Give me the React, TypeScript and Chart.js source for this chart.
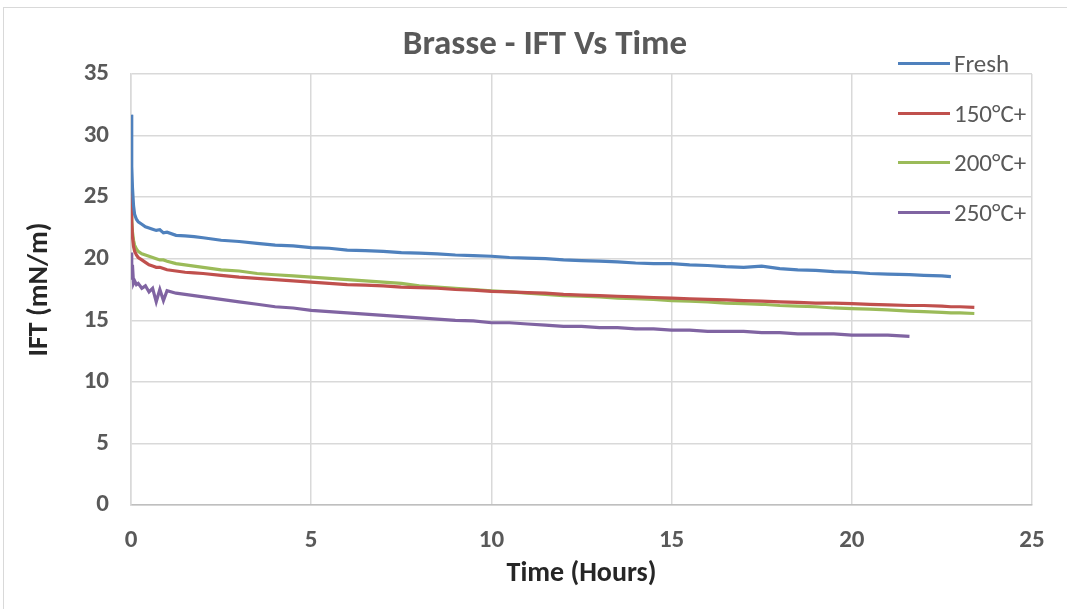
import React, { useEffect, useRef } from "react";
import { Chart, registerables } from "chart.js";

Chart.register(...registerables);

const timeHours = [
  0, 0.02, 0.04, 0.07, 0.1, 0.15, 0.2, 0.3, 0.4, 0.5, 0.6, 0.7, 0.8, 0.9, 1.0, 1.25, 1.5, 1.75, 2.0, 2.5,
  3.0, 3.5, 4.0, 4.5, 5.0, 5.5, 6.0, 6.5, 7.0, 7.5, 8.0, 8.5, 9.0, 9.5, 10.0, 10.5, 11.0, 11.5, 12.0, 12.5,
  13.0, 13.5, 14.0, 14.5, 15.0, 15.5, 16.0, 16.5, 17.0, 17.5, 18.0, 18.5, 19.0, 19.5, 20.0, 20.5, 21.0, 21.6,
  22.0, 22.5, 22.75, 23.0, 23.4,
];

const freshIFT = [
  31.7, 27.5, 25.8, 24.3, 23.6, 23.2, 23.0, 22.8, 22.6, 22.5, 22.4, 22.3, 22.35, 22.1, 22.15, 21.9, 21.85, 21.8, 21.7, 21.5,
  21.4, 21.25, 21.1, 21.05, 20.9, 20.85, 20.7, 20.65, 20.6, 20.5, 20.45, 20.4, 20.3, 20.25, 20.2, 20.1, 20.05, 20.0, 19.9, 19.85,
  19.8, 19.75, 19.65, 19.6, 19.6, 19.5, 19.45, 19.35, 19.3, 19.4, 19.2, 19.1, 19.05, 18.95, 18.9, 18.8, 18.75, 18.7,
  18.65, 18.6, 18.55,
];

const ift150 = [
  25.9, 23.0, 21.8, 21.0, 20.6, 20.3, 20.1, 19.9, 19.7, 19.5, 19.4, 19.3, 19.3, 19.2, 19.1, 19.0, 18.9, 18.85, 18.8, 18.65,
  18.5, 18.4, 18.3, 18.2, 18.1, 18.0, 17.9, 17.85, 17.8, 17.7, 17.65, 17.6, 17.5, 17.45, 17.35, 17.3, 17.25, 17.2, 17.1, 17.05,
  17.0, 16.95, 16.9, 16.85, 16.8, 16.75, 16.7, 16.65, 16.6, 16.55, 16.5, 16.45, 16.4, 16.4, 16.35, 16.3, 16.25, 16.2,
  16.2, 16.15, 16.1, 16.1, 16.05,
];

const ift200 = [
  25.0, 23.2, 22.2, 21.5, 21.1, 20.8, 20.6, 20.4, 20.3, 20.2, 20.1, 20.0, 19.9, 19.9, 19.8, 19.6, 19.5, 19.4, 19.3, 19.1,
  19.0, 18.8, 18.7, 18.6, 18.5, 18.4, 18.3, 18.2, 18.1, 18.0, 17.8, 17.7, 17.6, 17.5, 17.4, 17.3, 17.2, 17.1, 17.0, 16.95,
  16.9, 16.8, 16.75, 16.7, 16.6, 16.55, 16.5, 16.4, 16.35, 16.3, 16.2, 16.15, 16.1, 16.0, 15.95, 15.9, 15.85, 15.75,
  15.7, 15.65, 15.6, 15.6, 15.55,
];

const ift250 = [
  20.5, 18.3, 19.5, 18.0, 18.2, 17.9, 18.0, 17.6, 17.8, 17.3, 17.6, 16.5, 17.5, 16.6, 17.4, 17.2, 17.1, 17.0, 16.9, 16.7,
  16.5, 16.3, 16.1, 16.0, 15.8, 15.7, 15.6, 15.5, 15.4, 15.3, 15.2, 15.1, 15.0, 14.95, 14.8, 14.8, 14.7, 14.6, 14.5, 14.5,
  14.4, 14.4, 14.3, 14.3, 14.2, 14.2, 14.1, 14.1, 14.1, 14.0, 14.0, 13.9, 13.9, 13.9, 13.8, 13.8, 13.8, 13.7,
];

const seriesNames = ["Fresh", "150°C+", "200°C+", "250°C+"];
const seriesValues = [freshIFT, ift150, ift200, ift250];
const seriesColors = ["#4F81BD", "#C0504D", "#9BBB59", "#8064A2"];

const chartTitle = "Brasse - IFT Vs Time";
const xAxisTitle = "Time (Hours)";
const yAxisTitle = "IFT (mN/m)";

const FONT = 'Carlito, "Liberation Sans Narrow", "Open Sans", sans-serif';

export default function App() {
  const canvasRef = useRef<HTMLCanvasElement>(null);

  useEffect(() => {
    if (!canvasRef.current) return;
    const chart = new Chart(canvasRef.current, {
      type: "line",
      data: {
        datasets: seriesNames.map((name, i) => ({
          label: name,
          data: seriesValues[i].map((v, j) => ({ x: timeHours[j], y: v })),
          borderColor: seriesColors[i],
          backgroundColor: seriesColors[i],
          borderWidth: 3.2,
          pointRadius: 0,
          tension: 0,
          fill: false,
        })),
      },
      options: {
        animation: false,
        responsive: false,
        maintainAspectRatio: false,
        layout: { padding: { left: 0, right: 35, top: 74, bottom: 0 } },
        plugins: {
          legend: { display: false },
          tooltip: { enabled: false },
          title: { display: false },
        },
        scales: {
          x: {
            type: "linear",
            min: 0,
            max: 25,
            ticks: { stepSize: 5, color: "#595959", font: { family: FONT, size: 25, weight: "bold" }, padding: 21, maxRotation: 0 },
            grid: { color: "#d9d9d9", drawTicks: false, lineWidth: 1.5 },
            border: { color: "#bfbfbf", width: 1.5 },
            title: {
              display: true,
              text: xAxisTitle,
              color: "#262626",
              font: { family: FONT, size: 28, weight: "bold" },
              padding: { top: 0, bottom: 18 },
            },
            afterFit: (s: any) => {
              s.height = 104;
            },
          },
          y: {
            type: "linear",
            min: 0,
            max: 35,
            ticks: { stepSize: 5, color: "#595959", font: { family: FONT, size: 25, weight: "bold" }, padding: 22 },
            grid: { color: "#d9d9d9", drawTicks: false, lineWidth: 1.5 },
            border: { color: "#d9d9d9", width: 1.5 },
            title: {
              display: true,
              text: yAxisTitle,
              color: "#262626",
              font: { family: FONT, size: 28, weight: "bold" },
              padding: { top: 23, bottom: 0 },
            },
            afterFit: (s: any) => {
              s.width = 131;
            },
          },
        },
      },
    });
    return () => chart.destroy();
  }, []);

  const legendTop = [63, 113, 162, 212];

  return (
    <div style={{ position: "fixed", left: 0, top: 0, width: 1067, height: 609, background: "#fff", overflow: "hidden" }}>
      <div
        style={{
          position: "absolute",
          left: 3,
          top: 7,
          width: 1100,
          height: 700,
          borderLeft: "1.5px solid #d9d9d9",
          borderTop: "1.5px solid #d9d9d9",
        }}
      />
      <canvas ref={canvasRef} width={1067} height={609} style={{ position: "absolute", left: 0, top: 0 }} />
      <div
        style={{
          position: "absolute",
          left: 345,
          width: 400,
          top: 20,
          height: 44,
          lineHeight: "44px",
          textAlign: "center",
          fontFamily: FONT,
          fontSize: 35,
          fontWeight: "bold",
          color: "#595959",
          whiteSpace: "nowrap",
        }}
      >
        {chartTitle}
      </div>
      {seriesNames.map((name, i) => (
        <div key={name} style={{ position: "absolute", left: 898, top: legendTop[i] - 16, height: 32, display: "flex", alignItems: "center" }}>
          <div style={{ width: 52, height: 3, background: seriesColors[i] }} />
          <span style={{ marginLeft: 4, fontFamily: FONT, fontSize: 25, color: "#595959", whiteSpace: "nowrap" }}>{name}</span>
        </div>
      ))}
    </div>
  );
}
